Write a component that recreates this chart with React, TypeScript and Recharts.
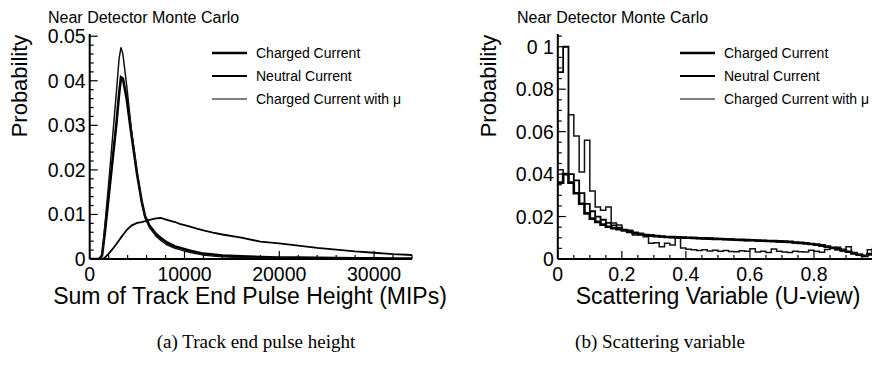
import React from 'react'
import { LineChart, Line, XAxis, YAxis, Legend } from 'recharts'

const FONT = '"Liberation Sans", Arial, sans-serif'
const SERIF = '"Liberation Serif", "Times New Roman", serif'

const seriesNames = ['Charged Current', 'Neutral Current', 'Charged Current with \u03bc']

// (a) track end pulse height (MIPs)
const pulseX = [0, 1000, 1300, 1600, 2000, 2400, 2800, 3100, 3300, 3500, 3900, 4400, 5000, 5500, 5850, 6300, 7000, 7500, 8150, 9000, 9500, 10500, 11300, 12000, 13000, 14000, 16000, 18000, 20000, 22000, 24000, 26000, 28000, 30000, 32000, 34000]
const ccPulse = [0, 0, 0.0008, 0.006, 0.014, 0.022, 0.03, 0.037, 0.0408, 0.0405, 0.036, 0.028, 0.019, 0.0128, 0.0095, 0.0075, 0.0056, 0.0047, 0.0037, 0.0028, 0.0025, 0.0019, 0.0015, 0.0012, 0.001, 0.0008, 0.0006, 0.00045, 0.00035, 0.0003, 0.00025, 0.0002, 0.00016, 0.00013, 0.0001, 0.00009]
const ncPulse = [0, 0, 0, 0.0003, 0.0012, 0.0022, 0.0033, 0.0042, 0.0048, 0.0054, 0.0065, 0.0075, 0.0081, 0.0083, 0.0085, 0.0088, 0.0091, 0.0092, 0.0088, 0.0083, 0.0079, 0.0073, 0.0068, 0.0064, 0.0059, 0.0055, 0.0048, 0.0039, 0.0035, 0.003, 0.0025, 0.0021, 0.0017, 0.0014, 0.0011, 0.0009]
const ccmuPulse = [0, 0, 0.0008, 0.0075, 0.017, 0.027, 0.037, 0.045, 0.0475, 0.046, 0.039, 0.029, 0.0195, 0.0126, 0.0092, 0.0071, 0.0051, 0.0042, 0.0032, 0.0024, 0.0021, 0.0015, 0.0012, 0.0009, 0.0007, 0.0005, 0.00035, 0.00025, 0.0002, 0.00015, 0.00012, 0.0001, 0.00008, 0.00006, 0.00005, 0.00004]

const pulseXTicks = [0, 2000, 4000, 6000, 8000, 10000, 12000, 14000, 16000, 18000, 20000, 22000, 24000, 26000, 28000, 30000, 32000, 34000]
const pulseXMajor = [0, 10000, 20000, 30000]
const pulseXLabels = ['0', '10000', '20000', '30000']
const pulseYTicks = [0, 0.002, 0.004, 0.006, 0.008, 0.01, 0.012, 0.014, 0.016, 0.018, 0.02, 0.022, 0.024, 0.026, 0.028, 0.03, 0.032, 0.034, 0.036, 0.038, 0.04, 0.042, 0.044, 0.046, 0.048, 0.05]
const pulseYMajor = [0, 0.01, 0.02, 0.03, 0.04, 0.05]
const pulseYLabels = ['0', '0.01', '0.02', '0.03', '0 04', '0.05']

// (b) scattering variable (U-view), 60 bins on [0, 1]
const scatBins = 60
const ccScat = [0.036, 0.04, 0.036, 0.031, 0.026, 0.0215, 0.019, 0.0175, 0.0162, 0.0152, 0.0145, 0.014, 0.0135, 0.0128, 0.0122, 0.0117, 0.0113, 0.011, 0.0108, 0.0106, 0.0104, 0.0103, 0.0102, 0.0101, 0.01, 0.0099, 0.0098, 0.0097, 0.0096, 0.0095, 0.0094, 0.0093, 0.0092, 0.0091, 0.009, 0.0089, 0.0088, 0.0087, 0.0086, 0.0085, 0.0084, 0.0083, 0.0082, 0.0081, 0.0078, 0.0076, 0.0074, 0.0071, 0.0068, 0.0064, 0.0059, 0.0053, 0.0046, 0.004, 0.0034, 0.0027, 0.002, 0.0014, 0.0022, 0.0042]
const ncScat = [0.088, 0.1, 0.04, 0.037, 0.031, 0.026, 0.0225, 0.02, 0.0185, 0.017, 0.0158, 0.0148, 0.0138, 0.013, 0.0124, 0.012, 0.0114, 0.0112, 0.0109, 0.0105, 0.0104, 0.0102, 0.0103, 0.01, 0.0099, 0.01, 0.0097, 0.0096, 0.0097, 0.0094, 0.0094, 0.0092, 0.0093, 0.009, 0.009, 0.0088, 0.0089, 0.0086, 0.0087, 0.0084, 0.0085, 0.0082, 0.0082, 0.0079, 0.0077, 0.0075, 0.0073, 0.007, 0.0066, 0.0062, 0.0057, 0.0051, 0.0046, 0.0039, 0.0033, 0.0026, 0.0021, 0.0016, 0.0025, 0.0045]
const ccmuScat = [0.042, 0.04, 0.068, 0.058, 0.041, 0.056, 0.032, 0.0245, 0.023, 0.0245, 0.017, 0.016, 0.0136, 0.0136, 0.0113, 0.0113, 0.0105, 0.0074, 0.0076, 0.0058, 0.0074, 0.0066, 0.0098, 0.0052, 0.0046, 0.0043, 0.004, 0.0044, 0.0038, 0.0041, 0.0036, 0.004, 0.0035, 0.0034, 0.0039, 0.0036, 0.0048, 0.0033, 0.0037, 0.0031, 0.0047, 0.0036, 0.0033, 0.0031, 0.0037, 0.0034, 0.0033, 0.0041, 0.0036, 0.0032, 0.0045, 0.0049, 0.0055, 0.0046, 0.0058, 0.0031, 0.0021, 0.0017, 0.0044, 0.0057]

const scatXTicks = [0, 0.05, 0.1, 0.15, 0.2, 0.25, 0.3, 0.35, 0.4, 0.45, 0.5, 0.55, 0.6, 0.65, 0.7, 0.75, 0.8, 0.85, 0.9, 0.95, 1]
const scatXMajor = [0, 0.2, 0.4, 0.6, 0.8]
const scatXLabels = ['0', '0.2', '0.4', '0.6', '0.8']
const scatYTicks = [0, 0.005, 0.01, 0.015, 0.02, 0.025, 0.03, 0.035, 0.04, 0.045, 0.05, 0.055, 0.06, 0.065, 0.07, 0.075, 0.08, 0.085, 0.09, 0.095, 0.1, 0.105]
const scatYMajor = [0, 0.02, 0.04, 0.06, 0.08, 0.1]
const scatYLabels = ['0', '0.02', '0.04', '0.06', '0.08', '0 1']

const pulseData = pulseX.map((x, i) => ({ x, cc: ccPulse[i], nc: ncPulse[i], ccmu: ccmuPulse[i] }))
// one extra row at x=1 so the last bin of the step line is drawn
const scatData = [...ccScat, ccScat[scatBins - 1]].map((_, i) => {
  const j = Math.min(i, scatBins - 1)
  return { x: i / scatBins, cc: ccScat[j], nc: ncScat[j], ccmu: ccmuScat[j] }
})

// ROOT-like frame ticks: drawn inward, labels only on majors
const frameTick = (side: string, majors: number[], labels?: string[]) => (p: any) => {
  const v = p.payload.value
  const idx = majors.findIndex(m => Math.abs(m - v) < 1e-9)
  const len = idx >= 0 ? 8 : 4
  const { x, y } = p
  let tick
  if (side === 'bottom') tick = <line x1={x} x2={x} y1={y} y2={y - len} stroke="#000" strokeWidth={1.2} />
  else if (side === 'top') tick = <line x1={x} x2={x} y1={y} y2={y + len} stroke="#000" strokeWidth={1.2} />
  else if (side === 'left') tick = <line x1={x} x2={x + len} y1={y} y2={y} stroke="#000" strokeWidth={1.2} />
  else tick = <line x1={x} x2={x - len} y1={y} y2={y} stroke="#000" strokeWidth={1.2} />
  let label = null
  if (labels && idx >= 0) {
    const style = { fontFamily: FONT, fontSize: 19.5, fill: '#000' }
    label = side === 'bottom'
      ? <text x={x} y={y + 22} textAnchor="middle" style={style}>{labels[idx]}</text>
      : <text x={x - 4} y={y + 7} textAnchor="end" style={style}>{labels[idx]}</text>
  }
  return <g>{tick}{label}</g>
}

const lineWidths = [2.6, 1.8, 1.5]
const legendColors = ['#000', '#000', '#555']

const renderLegend = (props: any) => {
  const items = [...(props.payload || [])].sort(
    (a: any, b: any) => seriesNames.indexOf(a.value) - seriesNames.indexOf(b.value)
  )
  return (
    <div style={{ fontFamily: FONT, fontSize: 14, color: '#000' }}>
      {items.map((p: any) => {
        const k = seriesNames.indexOf(p.value)
        return (
          <div key={p.value} style={{ display: 'flex', alignItems: 'center', height: 23 }}>
            <svg width={35} height={8}>
              <line x1={0} x2={35} y1={4} y2={4} stroke={legendColors[k]} strokeWidth={lineWidths[k]} />
            </svg>
            <span style={{ marginLeft: 9, lineHeight: '16px' }}>{p.value}</span>
          </div>
        )
      })}
    </div>
  )
}

function Panel(props: any) {
  const { data, width, yWidth, right, xDomain, yDomain, xTicks, xMajor, xLabels, yTicks, yMajor, yLabels, curve, legendLeft } = props
  const axisLine = { stroke: '#000', strokeWidth: 2 }
  return (
    <LineChart width={width} height={310} data={data} margin={{ top: 34, right, bottom: 0, left: 0 }}>
      <XAxis xAxisId="b" dataKey="x" type="number" domain={xDomain} allowDataOverflow ticks={xTicks} interval={0}
        height={51} tickSize={0} tickMargin={0} tickLine={false} axisLine={axisLine} tick={frameTick('bottom', xMajor, xLabels)} />
      <XAxis xAxisId="t" dataKey="x" type="number" orientation="top" domain={xDomain} allowDataOverflow ticks={xTicks} interval={0}
        height={0} tickSize={0} tickMargin={0} tickLine={false} axisLine={axisLine} tick={frameTick('top', xMajor)} />
      <YAxis yAxisId="l" type="number" domain={yDomain} allowDataOverflow ticks={yTicks} interval={0}
        width={yWidth} tickSize={0} tickMargin={0} tickLine={false} axisLine={axisLine} tick={frameTick('left', yMajor, yLabels)} />
      <YAxis yAxisId="r" type="number" orientation="right" domain={yDomain} allowDataOverflow ticks={yTicks} interval={0}
        width={0} tickSize={0} tickMargin={0} tickLine={false} axisLine={axisLine} tick={frameTick('right', yMajor)} />
      <Line xAxisId="b" yAxisId="l" dataKey="cc" name={seriesNames[0]} type={curve} stroke="#000" strokeWidth={lineWidths[0]} dot={false} isAnimationActive={false} />
      <Line xAxisId="b" yAxisId="l" dataKey="nc" name={seriesNames[1]} type={curve} stroke="#000" strokeWidth={lineWidths[1]} dot={false} isAnimationActive={false} />
      <Line xAxisId="b" yAxisId="l" dataKey="ccmu" name={seriesNames[2]} type={curve} stroke="#111" strokeWidth={lineWidths[2]} dot={false} isAnimationActive={false} />
      <Legend layout="vertical" align="center" verticalAlign="middle" content={renderLegend}
        wrapperStyle={{ left: legendLeft, top: 41, width: 230, height: 70 }} />
    </LineChart>
  )
}

export default function App() {
  const t = { fontFamily: FONT, fill: '#000' }
  return (
    <div style={{ position: 'fixed', left: 0, top: 0, width: 872, height: 367, overflow: 'hidden', background: '#fff' }}>
      <div style={{ position: 'absolute', left: 0, top: 0 }}>
        <Panel data={pulseData} width={440} yWidth={89.7} right={28} xDomain={[0, 34000]} yDomain={[0, 0.0505]}
          xTicks={pulseXTicks} xMajor={pulseXMajor} xLabels={pulseXLabels} yTicks={pulseYTicks} yMajor={pulseYMajor}
          yLabels={pulseYLabels} curve="linear" legendLeft={212} />
      </div>
      <div style={{ position: 'absolute', left: 440, top: 0 }}>
        <Panel data={scatData} width={448} yWidth={117.8} right={10} xDomain={[0, 1]} yDomain={[0, 0.106]}
          xTicks={scatXTicks} xMajor={scatXMajor} xLabels={scatXLabels} yTicks={scatYTicks} yMajor={scatYMajor}
          yLabels={scatYLabels} curve="stepAfter" legendLeft={240} />
      </div>
      <svg width={872} height={367} style={{ position: 'absolute', left: 0, top: 0, pointerEvents: 'none' }}>
        <text x={48} y={23} style={{ ...t, fontSize: 16 }}>Near Detector Monte Carlo</text>
        <text x={517} y={23} style={{ ...t, fontSize: 16 }}>Near Detector Monte Carlo</text>
        <text transform="translate(27,86) rotate(-90)" textAnchor="middle" style={{ ...t, fontSize: 22 }}>Probability</text>
        <text transform="translate(496,86) rotate(-90)" textAnchor="middle" style={{ ...t, fontSize: 22 }}>Probability</text>
        <text x={250} y={304} textAnchor="middle" style={{ ...t, fontSize: 23 }}>Sum of Track End Pulse Height (MIPs)</text>
        <text x={718} y={304} textAnchor="middle" style={{ ...t, fontSize: 23 }}>Scattering Variable (U-view)</text>
        <text x={256} y={348} textAnchor="middle" style={{ fontFamily: SERIF, fontSize: 19, fill: '#000' }}>(a)  Track end pulse height</text>
        <text x={660} y={348} textAnchor="middle" style={{ fontFamily: SERIF, fontSize: 19, fill: '#000' }}>(b)  Scattering variable</text>
      </svg>
    </div>
  )
}
